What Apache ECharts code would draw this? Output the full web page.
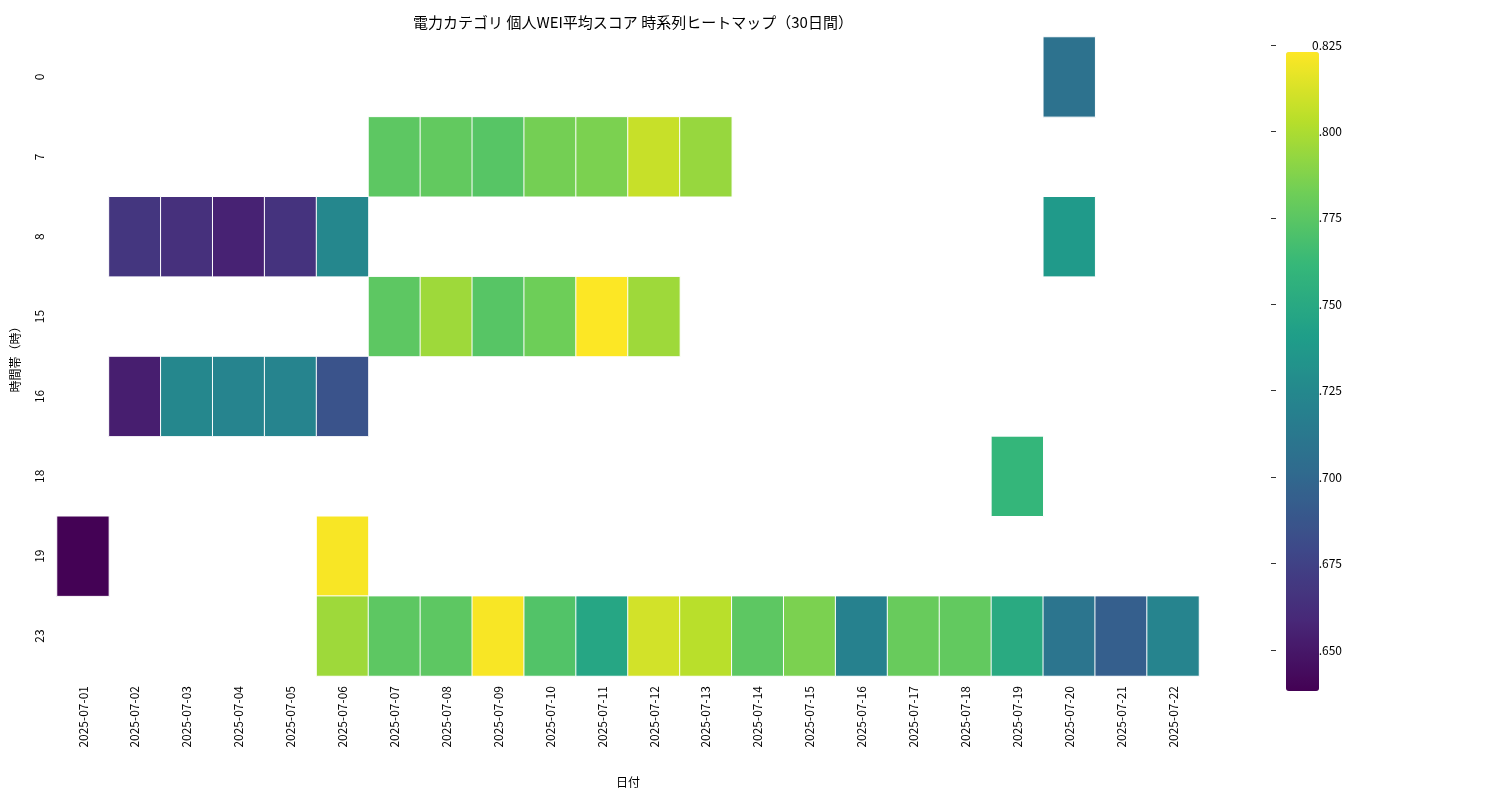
<!DOCTYPE html><html><head><meta charset="utf-8"><script src="https://cdn.jsdelivr.net/npm/echarts@6/dist/echarts.min.js"></script></head><body style="margin:0"><div id="c" style="width:1500px;height:800px"></div><script>
const dates=['2025-07-01','2025-07-02','2025-07-03','2025-07-04','2025-07-05','2025-07-06','2025-07-07','2025-07-08','2025-07-09','2025-07-10','2025-07-11','2025-07-12','2025-07-13','2025-07-14','2025-07-15','2025-07-16','2025-07-17','2025-07-18','2025-07-19','2025-07-20','2025-07-21','2025-07-22'];
const hours=['0','7','8','15','16','18','19','23'];
const h0={'2025-07-20':0.712};
const h7={'2025-07-07':0.780,'2025-07-08':0.782,'2025-07-09':0.778,'2025-07-10':0.788,'2025-07-11':0.790,'2025-07-12':0.812,'2025-07-13':0.798};
const h8={'2025-07-02':0.672,'2025-07-03':0.668,'2025-07-04':0.660,'2025-07-05':0.670,'2025-07-06':0.728,'2025-07-20':0.742};
const h15={'2025-07-07':0.780,'2025-07-08':0.800,'2025-07-09':0.778,'2025-07-10':0.786,'2025-07-11':0.827,'2025-07-12':0.800};
const h16={'2025-07-02':0.658,'2025-07-03':0.728,'2025-07-04':0.726,'2025-07-05':0.726,'2025-07-06':0.690};
const h18={'2025-07-19':0.765};
const h19={'2025-07-01':0.643,'2025-07-06':0.826};
const h23={'2025-07-06':0.800,'2025-07-07':0.780,'2025-07-08':0.780,'2025-07-09':0.826,'2025-07-10':0.776,'2025-07-11':0.752,'2025-07-12':0.815,'2025-07-13':0.808,'2025-07-14':0.780,'2025-07-15':0.790,'2025-07-16':0.724,'2025-07-17':0.784,'2025-07-18':0.782,'2025-07-19':0.755,'2025-07-20':0.714,'2025-07-21':0.698,'2025-07-22':0.726};
const rows=[h0,h7,h8,h15,h16,h18,h19,h23];
const cbTicks=[0.650,0.675,0.700,0.725,0.750,0.775,0.800,0.825];
const vmin=0.6425,vmax=0.8273;
const data=[];
rows.forEach((r,yi)=>{for(const d in r)data.push([dates.indexOf(d),yi,r[d]]);});
const viridis=['#440154','#482878','#3e4989','#31688e','#26828e','#1f9e89','#35b779','#6ece58','#b5de2b','#fde725'];
const F='Noto Sans CJK JP';
const ch=echarts.init(document.getElementById('c'));
ch.setOption({textStyle:{fontFamily:F},
title:{text:'電力カテゴリ 個人WEI平均スコア 時系列ヒートマップ（30日間）',left:628,top:10,textAlign:'center',textStyle:{fontSize:15,fontWeight:'normal',color:'#000',fontFamily:F}},
grid:[{left:57,right:301,top:37,bottom:124},{left:1271,width:33,top:37,bottom:124}],
xAxis:[{type:'category',data:dates,gridIndex:0,name:'日付',nameLocation:'middle',nameGap:100,nameTextStyle:{color:'#000',fontSize:12},axisLine:{show:false},axisTick:{alignWithLabel:true,length:5,lineStyle:{color:'#333'}},axisLabel:{rotate:90,color:'#000',fontSize:12,margin:10},splitLine:{show:false}},
{type:'value',gridIndex:1,show:false,min:0,max:1}],
yAxis:[{type:'category',data:hours,inverse:true,gridIndex:0,name:'時間帯（時）',nameLocation:'middle',nameGap:36,nameRotate:90,nameTextStyle:{color:'#000',fontSize:12},axisLine:{show:false},axisTick:{alignWithLabel:true,length:5,lineStyle:{color:'#333'}},axisLabel:{rotate:90,color:'#000',fontSize:12,margin:12},splitLine:{show:false}},
{type:'value',gridIndex:1,position:'right',min:vmin,max:vmax,axisLine:{show:false},splitLine:{show:false},
axisTick:{show:true,length:5,customValues:cbTicks,lineStyle:{color:'#333'}},
axisLabel:{color:'#000',fontSize:12,customValues:cbTicks,formatter:v=>v.toFixed(3)}}],
visualMap:{min:vmin,max:vmax,calculable:false,show:true,left:1271,top:37,itemWidth:33,itemHeight:639,text:null,showLabel:false,inRange:{color:viridis},seriesIndex:0,hoverLink:false},
series:[{type:'heatmap',data:data,xAxisIndex:0,yAxisIndex:0,itemStyle:{borderColor:'#fff',borderWidth:1},emphasis:{disabled:true}}]});
</script></body></html>
